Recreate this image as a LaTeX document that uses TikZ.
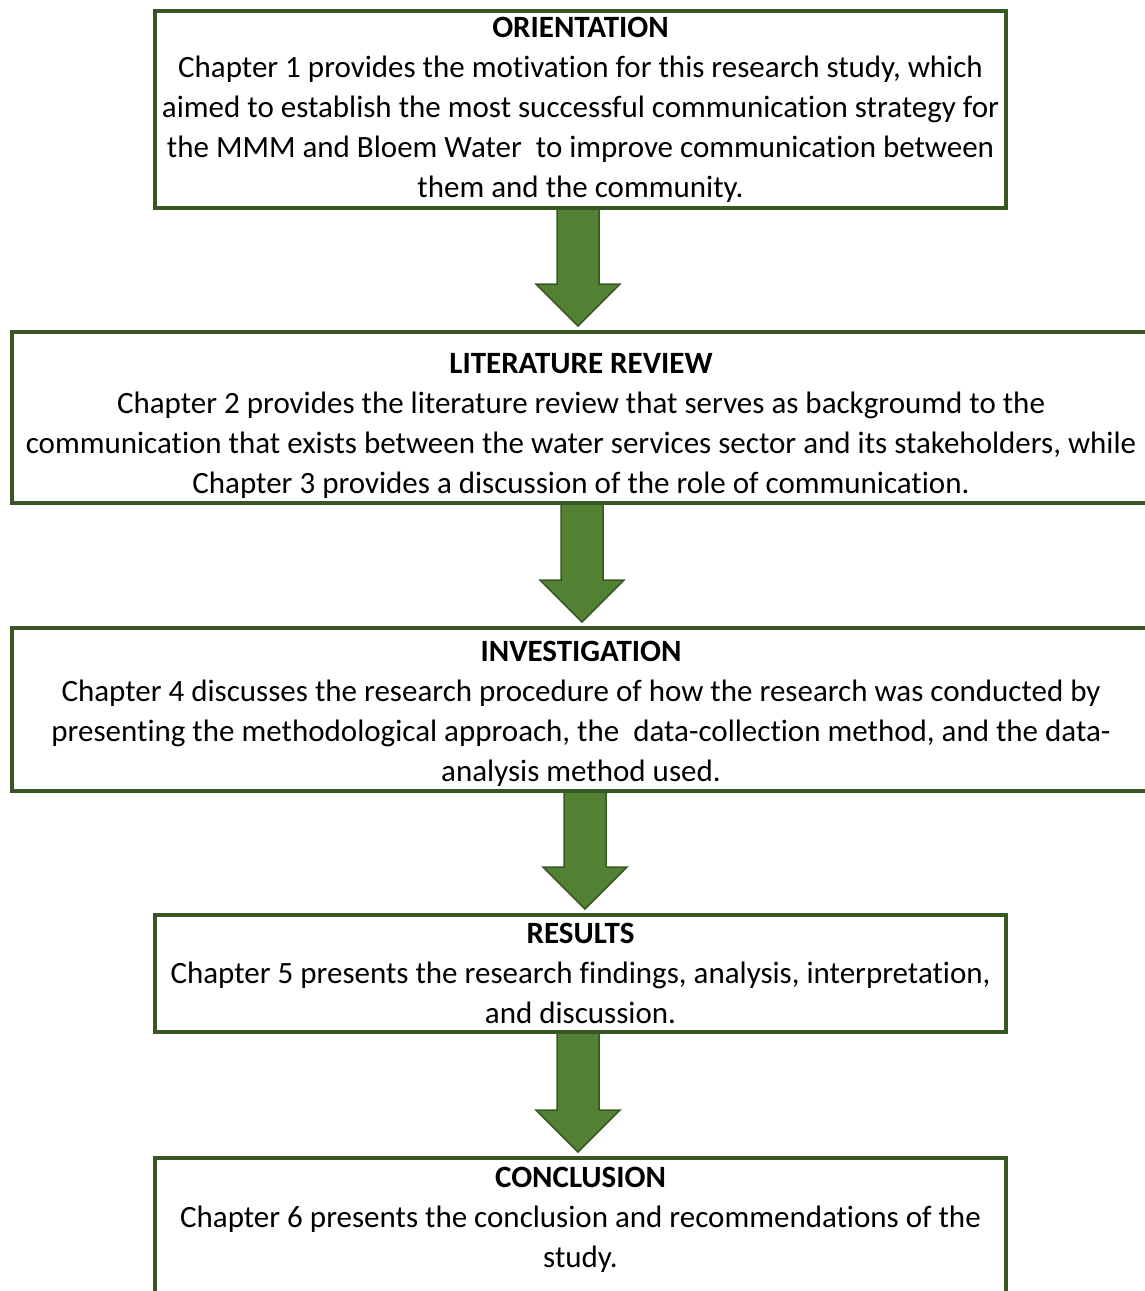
\documentclass[tikz,border=0pt]{standalone}
\usepackage{fontspec}
\setmainfont{Carlito}[Ligatures=NoCommon]
\usetikzlibrary{positioning, calc, backgrounds}
\definecolor{framecolor}{RGB}{56, 87, 35}
\definecolor{arrowcolor}{RGB}{84, 130, 53}

\begin{document}
\begin{tikzpicture}[
    x=1pt, y=-1pt,
    chapter/.style={rectangle, draw=framecolor, line width=4pt, fill=white, align=center, inner sep=0pt, font=\fontsize{31}{40}\selectfont},
    widebox/.style={chapter, minimum width=851pt},
    fullbox/.style={chapter, minimum width=1138pt},
    blockarrow/.style={draw=framecolor, line width=1.5pt, fill=arrowcolor, line join=miter},
]
\useasboundingbox (0,0) rectangle (1145,1291);

% ============ chapter boxes ============
\node[widebox, minimum height=197pt] (orientation) at (580.5,109.5) {\textbf{ORIENTATION}\\
Chapter 1 provides the motivation for this research study, which\\
aimed to establish the most successful communication strategy for\\
the MMM and Bloem Water\ \ to improve communication between\\
them and the community.};

\node[fullbox, minimum height=171pt, text depth=0pt] (litreview) at (581,417.5) {\rule{0pt}{32pt}\textbf{LITERATURE REVIEW}\\
Chapter 2 provides the literature review that serves as backgroumd to the\\
communication that exists between the water services sector and its stakeholders, while\\
Chapter 3 provides a discussion of the role of communication.};

\node[fullbox, minimum height=163pt, text depth=0pt] (investigation) at (581,709.5) {\rule{0pt}{24pt}\textbf{INVESTIGATION}\\
Chapter 4 discusses the research procedure of how the research was conducted by\\
presenting the methodological approach, the\ \ data-collection method, and the data-\\
analysis method used.};

\node[widebox, minimum height=117pt] (results) at (580.5,973.5) {\textbf{RESULTS}\\
Chapter 5 presents the research findings, analysis, interpretation,\\
and discussion.};

\node[widebox, minimum height=140pt, text depth=22pt] (conclusion) at (580.5,1228) {\textbf{CONCLUSION}\\
Chapter 6 presents the conclusion and recommendations of the\\
study.};

% ============ block arrows ============
\begin{pgfonlayer}{background}
\foreach \from/\to/\mid in {orientation/litreview/578, litreview/investigation/582, investigation/results/585, results/conclusion/578} {
    \draw[blockarrow] let \p1=(\from.south), \p2=(\to.north) in
        (\mid pt-21pt,\y1+2pt) -- (\mid pt+21pt,\y1+2pt) -- (\mid pt+21pt,\y2+46pt)
        -- (\mid pt+42pt,\y2+46pt) -- (\mid pt,\y2+4pt) -- (\mid pt-42pt,\y2+46pt)
        -- (\mid pt-21pt,\y2+46pt) -- cycle;
}
\end{pgfonlayer}

\end{tikzpicture}
\end{document}
